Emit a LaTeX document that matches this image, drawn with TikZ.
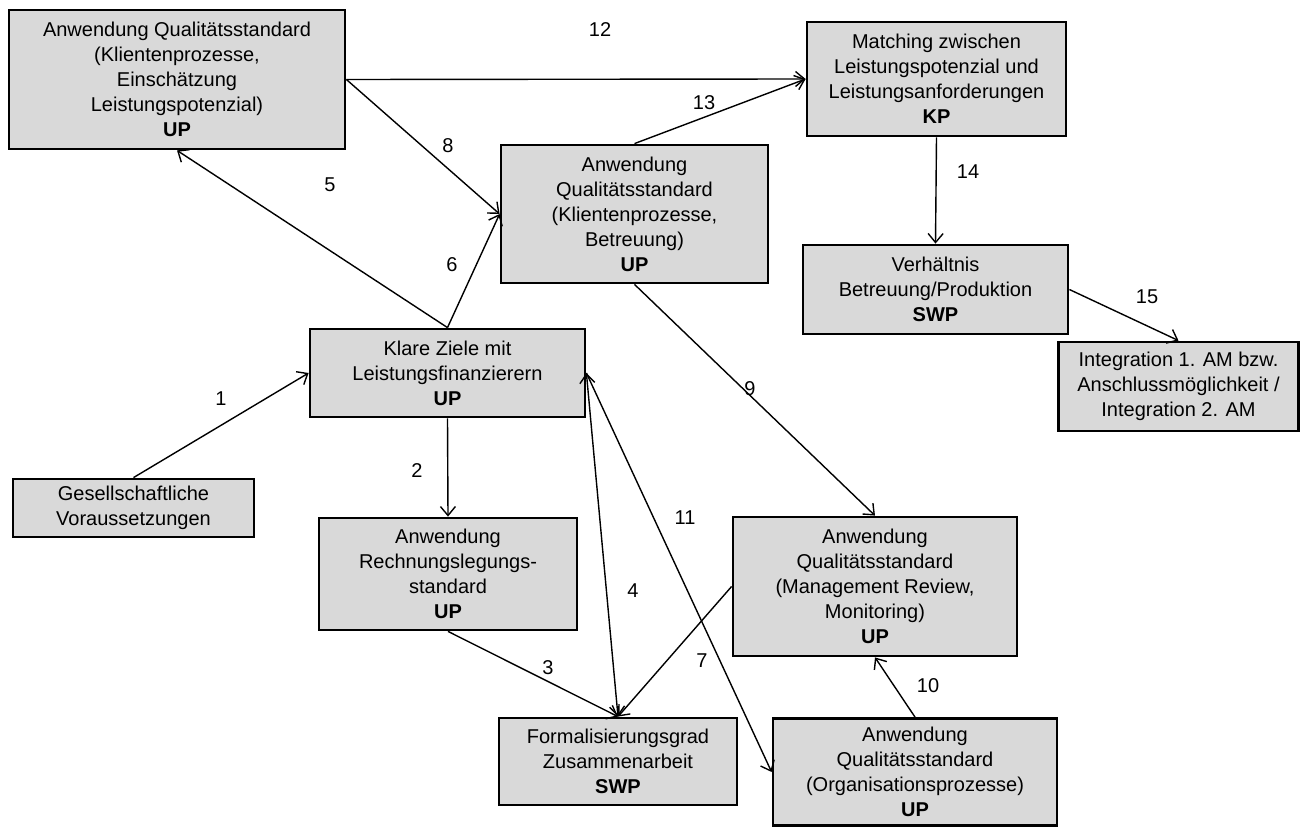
\documentclass[tikz,border=0pt]{standalone}
\usepackage{fontspec}
\setmainfont{Liberation Sans}
\usetikzlibrary{arrows.meta}
\definecolor{boxgray}{HTML}{D9D9D9}
\tikzset{
  box/.style={draw=black, line width=2.8pt, fill=boxgray, align=center, inner sep=0pt,
    font=\fontsize{20}{25}\selectfont},
  conn/.style={line width=1.4pt, -{Straight Barb[length=9pt,width=15pt,line width=1.4pt]}},
  conn2/.style={line width=1.4pt, {Straight Barb[length=9pt,width=15pt,line width=1.4pt]}-{Straight Barb[length=9pt,width=15pt,line width=1.4pt]}},
  lbl/.style={font=\fontsize{20}{25}\selectfont, inner sep=0pt}
}
\begin{document}
\begin{tikzpicture}[x=1pt,y=-1pt]
\useasboundingbox (0,0) rectangle (1302,829);
% boxes
\node[box, minimum width=336pt, minimum height=139pt] (A) at (177,79.5)
  {Anwendung Qualitätsstandard\\(Klientenprozesse,\\Einschätzung\\Leistungspotenzial)\\\textbf{UP}};
\node[box, minimum width=267pt, minimum height=138pt] (B) at (634.5,214)
  {Anwendung\\Qualitätsstandard\\(Klientenprozesse,\\Betreuung)\\\textbf{UP}};
\node[box, minimum width=259pt, minimum height=114pt] (C) at (936.5,79)
  {Matching zwischen\\Leistungspotenzial und\\Leistungsanforderungen\\\textbf{KP}};
\node[box, minimum width=265pt, minimum height=89pt] (D) at (935.5,289.5)
  {Verhältnis\\Betreuung/Produktion\\\textbf{SWP}};
\node[box, minimum width=240pt, minimum height=89pt] (E) at (1178.5,386.5)
  {Integration 1. AM bzw.\\Anschlussmöglichkeit /\\Integration 2. AM};
\node[box, minimum width=275pt, minimum height=88pt] (F) at (447.5,373)
  {Klare Ziele mit\\Leistungsfinanzierern\\\textbf{UP}};
\node[box, minimum width=258pt, minimum height=112pt] (G) at (448,574)
  {Anwendung\\Rechnungslegungs-\\standard\\\textbf{UP}};
\node[box, minimum width=241pt, minimum height=58pt] (H) at (133.5,508)
  {Gesellschaftliche\\Voraussetzungen};
\node[box, minimum width=238pt, minimum height=87pt] (I) at (618,761.5)
  {Formalisierungsgrad\\Zusammenarbeit\\\textbf{SWP}};
\node[box, minimum width=284pt, minimum height=139pt] (J) at (875,586.5)
  {Anwendung\\Qualitätsstandard\\(Management Review,\\Monitoring)\\\textbf{UP}};
\node[box, minimum width=284pt, minimum height=107pt] (K) at (915,772)
  {Anwendung\\Qualitätsstandard\\(Organisationsprozesse)\\\textbf{UP}};
% connectors
\draw[conn] (H.north) -- (F.west);
\draw[conn] (F.south) -- (G.north);
\draw[conn] (G.south) -- (I.north);
\draw[conn2] (F.east) -- (I.north);
\draw[conn] (F.north) -- (A.south);
\draw[conn] (F.north) -- (B.west);
\draw[conn] (F.east) -- (K.west);
\draw[conn] (A.east) -- (B.west);
\draw[conn] (B.south) -- (J.north);
\draw[conn] (K.north) -- (J.south);
\draw[conn] (A.east) -- (C.west);
\draw[conn] (B.north) -- (C.west);
\draw[conn] (C.south) -- (D.north);
\draw[conn] (D.east) -- (E.north);
\draw[conn] (J.west) -- (I.north);
% labels
\node[lbl] (l1) at (221,399) {1};
\node[lbl] (l2) at (417,471) {2};
\node[lbl] (l3) at (548,668) {3};
\node[lbl] (l4) at (633,591) {4};
\node[lbl] (l5) at (330,185) {5};
\node[lbl] (l6) at (452,265) {6};
\node[lbl] (l7) at (702,661) {7};
\node[lbl] (l8) at (448,146) {8};
\node[lbl] (l9) at (750,389) {9};
\node[lbl] (l10) at (928,686) {10};
\node[lbl] (l11) at (685,518) {11};
\node[lbl] (l12) at (600,30) {12};
\node[lbl] (l13) at (704,103) {13};
\node[lbl] (l14) at (968,172) {14};
\node[lbl] (l15) at (1147,297) {15};
\end{tikzpicture}
\end{document}
